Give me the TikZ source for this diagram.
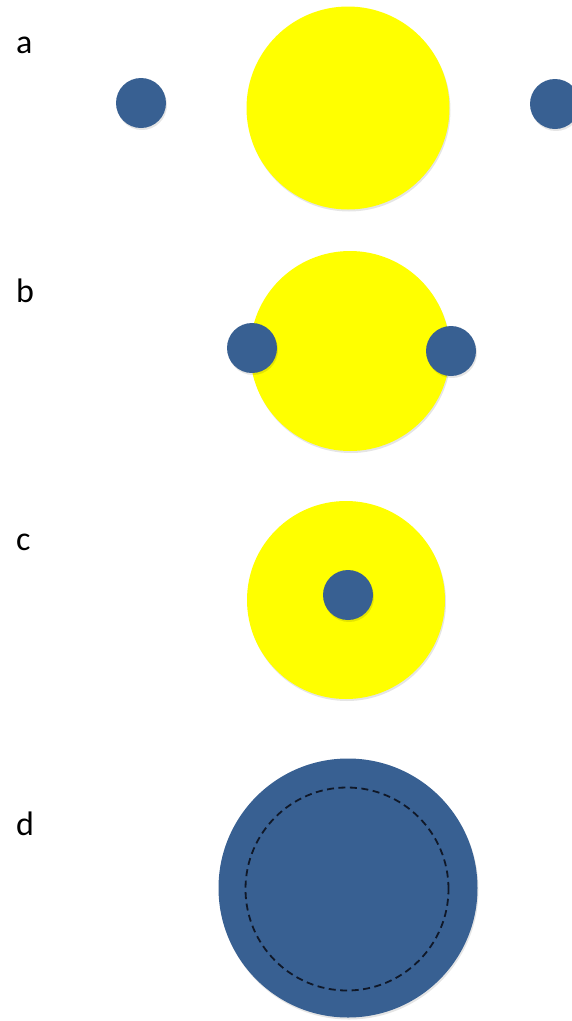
\documentclass[tikz,border=0pt]{standalone}
\usepackage{fontspec}
\setmainfont{Carlito}
\definecolor{sunyellow}{RGB}{255,255,0}
\definecolor{planetblue}{RGB}{56,96,146}
\definecolor{rimdark}{RGB}{16,24,40}
\begin{document}
\begin{tikzpicture}[x=1pt,y=-1pt,
  panel/.style={anchor=base west,inner sep=0pt,font=\fontsize{34}{40}\selectfont},
  disc/.style={circle,inner sep=0pt,minimum size=#1,
    preaction={fill=black,fill opacity=0.10,transform canvas={shift={(1pt,-2pt)}}}},
  star/.style={disc=#1,fill=sunyellow},
  planet/.style={disc=#1,fill=planetblue},
  orbit/.style={draw=rimdark,line width=1.8pt,dash pattern=on 7pt off 4.5pt}]
\useasboundingbox (0,0) rectangle (572,1021);
\fill[white] (0,0) rectangle (572,1021);

% panel a: two bodies far apart on either side of the star
\node[panel] (la) at (16,53) {a};
\node[star=203pt] (sa) at (348,108) {};
\node[planet=50pt] (pa1) at (141,103) {};
\node[planet=50pt] (pa2) at (555,104) {};

% panel b: the bodies touch the star's rim
\node[panel] (lb) at (16,302) {b};
\node[star=200pt] (sb) at (350,351) {};
\node[planet=50pt] (pb1) at (252,348) {};
\node[planet=50pt] (pb2) at (451,351) {};

% panel c: one body inside the star
\node[panel] (lc) at (16,550) {c};
\node[star=198pt] (sc) at (346,600) {};
\node[planet=50pt] (pc) at (348,595) {};

% panel d: merged body with the former rim dashed
\node[panel] (ld) at (16,835) {d};
\node[planet=259pt] (pd) at (348,888) {};
\node[circle,inner sep=0pt,minimum size=203pt,orbit] (rd) at (347,889) {};
\end{tikzpicture}
\end{document}
